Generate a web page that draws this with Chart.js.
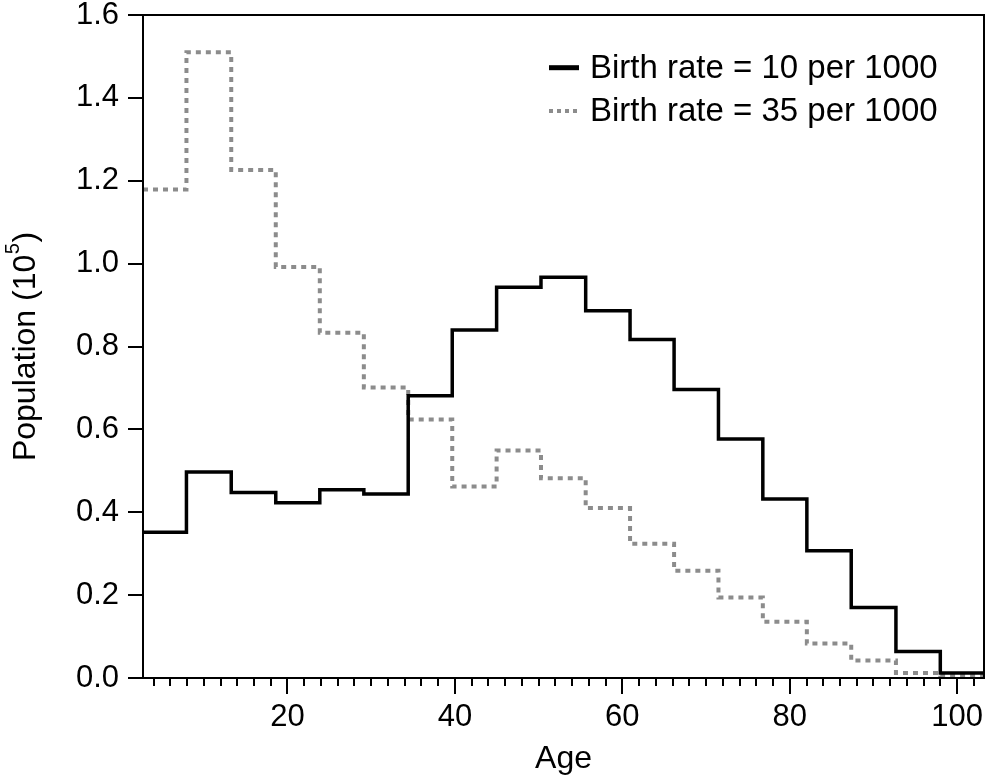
<!DOCTYPE html>
<html>
<head>
<meta charset="utf-8">
<script src="https://cdn.jsdelivr.net/npm/chart.js@4.4.1/dist/chart.umd.min.js"></script>
<style>
  html, body { margin: 0; padding: 0; background: #fff; }
  canvas { display: block; }
</style>
</head>
<body>
<canvas id="c" width="986" height="777"></canvas>
<script>
// Age-bin edges (x)
const binEdges = [2.74, 7.93, 13.28, 18.6, 23.86, 29.12, 34.42, 39.68, 44.98, 50.28,
                  55.62, 60.92, 66.18, 71.48, 76.78, 82.04, 87.34, 92.68, 97.98, 103.2];
// Population (10^5) per bin
const birth10 = [0.352, 0.497, 0.4475, 0.423, 0.454, 0.444, 0.681, 0.840, 0.943, 0.967,
                 0.886, 0.817, 0.696, 0.577, 0.432, 0.307, 0.170, 0.064, 0.012];
const birth35 = [1.179, 1.510, 1.226, 0.992, 0.833, 0.701, 0.624, 0.462, 0.549, 0.482,
                 0.410, 0.324, 0.259, 0.194, 0.136, 0.083, 0.042, 0.012, 0.005];
const seriesLabels = ['Birth rate = 10 per 1000', 'Birth rate = 35 per 1000'];
const yTickValues = [0, 0.2, 0.4, 0.6, 0.8, 1.0, 1.2, 1.4, 1.6];
const xMajorTicks = [20, 40, 60, 80, 100];
const xMinorStep = 2;

const FONT = '"Liberation Sans", Arial, Helvetica, sans-serif';

function stepPoints(vals) {
  return binEdges.map((e, i) => ({ x: e, y: vals[Math.min(i, vals.length - 1)] }));
}

const xTickValues = [];
for (let v = 4; v <= 102; v += xMinorStep) xTickValues.push(v);

const decorPlugin = {
  id: 'decor',
  afterDraw(chart) {
    const ctx = chart.ctx;
    const area = chart.chartArea;
    const xs = chart.scales.x, ys = chart.scales.y;
    ctx.save();
    ctx.strokeStyle = '#000';
    ctx.lineWidth = 2;
    ctx.lineCap = 'butt';
    // frame
    ctx.strokeRect(area.left, area.top, area.right - area.left, area.bottom - area.top);
    // y ticks
    ctx.beginPath();
    yTickValues.forEach(v => {
      const y = Math.round(ys.getPixelForValue(v));
      ctx.moveTo(area.left - 15, y);
      ctx.lineTo(area.left, y);
    });
    // x ticks
    xTickValues.forEach(v => {
      const x = Math.round(xs.getPixelForValue(v));
      const len = xMajorTicks.includes(v) ? 16 : 8;
      ctx.moveTo(x, area.bottom);
      ctx.lineTo(x, area.bottom + len);
    });
    ctx.stroke();

    // legend
    const rows = [67.7, 111];
    chart.data.datasets.forEach((ds, i) => {
      const y = rows[i];
      ctx.save();
      ctx.strokeStyle = ds.borderColor;
      ctx.lineWidth = ds.legendLineWidth;
      ctx.setLineDash(ds.legendDash || []);
      ctx.beginPath();
      ctx.moveTo(549, y);
      ctx.lineTo(579, y);
      ctx.stroke();
      ctx.restore();
      ctx.fillStyle = '#000';
      ctx.font = '33px ' + FONT;
      ctx.textAlign = 'left';
      ctx.textBaseline = 'middle';
      ctx.fillText(ds.label, 590, y + 1);
    });

    // x title
    ctx.fillStyle = '#000';
    ctx.font = '32px ' + FONT;
    ctx.textAlign = 'center';
    ctx.textBaseline = 'alphabetic';
    ctx.fillText('Age', (area.left + area.right) / 2, 768);

    // y title with superscript
    ctx.save();
    ctx.translate(35, (area.top + area.bottom) / 2);
    ctx.rotate(-Math.PI / 2);
    const main = 'Population (10';
    const sup = '5';
    const tail = ')';
    ctx.font = '32px ' + FONT;
    const w1 = ctx.measureText(main).width;
    const w3 = ctx.measureText(tail).width;
    ctx.font = '20px ' + FONT;
    const w2 = ctx.measureText(sup).width;
    const total = w1 + w2 + w3 + 1;
    let x0 = -total / 2;
    ctx.textAlign = 'left';
    ctx.font = '32px ' + FONT;
    ctx.fillText(main, x0, 0);
    ctx.font = '20px ' + FONT;
    ctx.fillText(sup, x0 + w1 + 0.5, -16);
    ctx.font = '32px ' + FONT;
    ctx.fillText(tail, x0 + w1 + w2 + 1, 0);
    ctx.restore();

    ctx.restore();
  }
};

new Chart(document.getElementById('c'), {
  type: 'line',
  data: {
    datasets: [
      {
        label: seriesLabels[0],
        data: stepPoints(birth10),
        stepped: true,
        borderColor: '#000000',
        borderWidth: 3.5,
        legendLineWidth: 5,
        pointRadius: 0,
        fill: false,
        borderJoinStyle: 'miter',
        order: 1
      },
      {
        label: seriesLabels[1],
        data: stepPoints(birth35),
        stepped: true,
        borderColor: '#8c8c8c',
        borderWidth: 4,
        borderDash: [5, 5],
        legendLineWidth: 4,
        legendDash: [4, 4],
        pointRadius: 0,
        fill: false,
        order: 2
      }
    ]
  },
  options: {
    responsive: false,
    animation: false,
    events: [],
    layout: { padding: { top: 15, right: 2, left: 0, bottom: 0 } },
    plugins: { legend: { display: false }, tooltip: { enabled: false } },
    scales: {
      x: {
        type: 'linear',
        min: 2.74,
        max: 103.2,
        grid: { display: false, drawTicks: false },
        border: { display: false },
        afterBuildTicks: s => { s.ticks = xTickValues.map(v => ({ value: v })); },
        afterFit: s => { s.height = 99; s.paddingLeft = 0; s.paddingRight = 0; },
        ticks: {
          autoSkip: false,
          maxRotation: 0,
          padding: 21,
          color: '#000',
          font: { family: FONT, size: 31, lineHeight: 1.2 },
          callback: v => (xMajorTicks.includes(v) ? String(v) : '')
        }
      },
      y: {
        min: 0,
        max: 1.6,
        grid: { display: false, drawTicks: false },
        border: { display: false },
        afterBuildTicks: s => { s.ticks = yTickValues.map(v => ({ value: v })); },
        afterFit: s => { s.width = 143; s.paddingTop = 0; s.paddingBottom = 0; },
        ticks: {
          autoSkip: false,
          padding: 24,
          color: '#000',
          font: { family: FONT, size: 31, lineHeight: 1.2 },
          callback: v => Number(v).toFixed(1)
        }
      }
    }
  },
  plugins: [decorPlugin]
});
</script>
</body>
</html>
